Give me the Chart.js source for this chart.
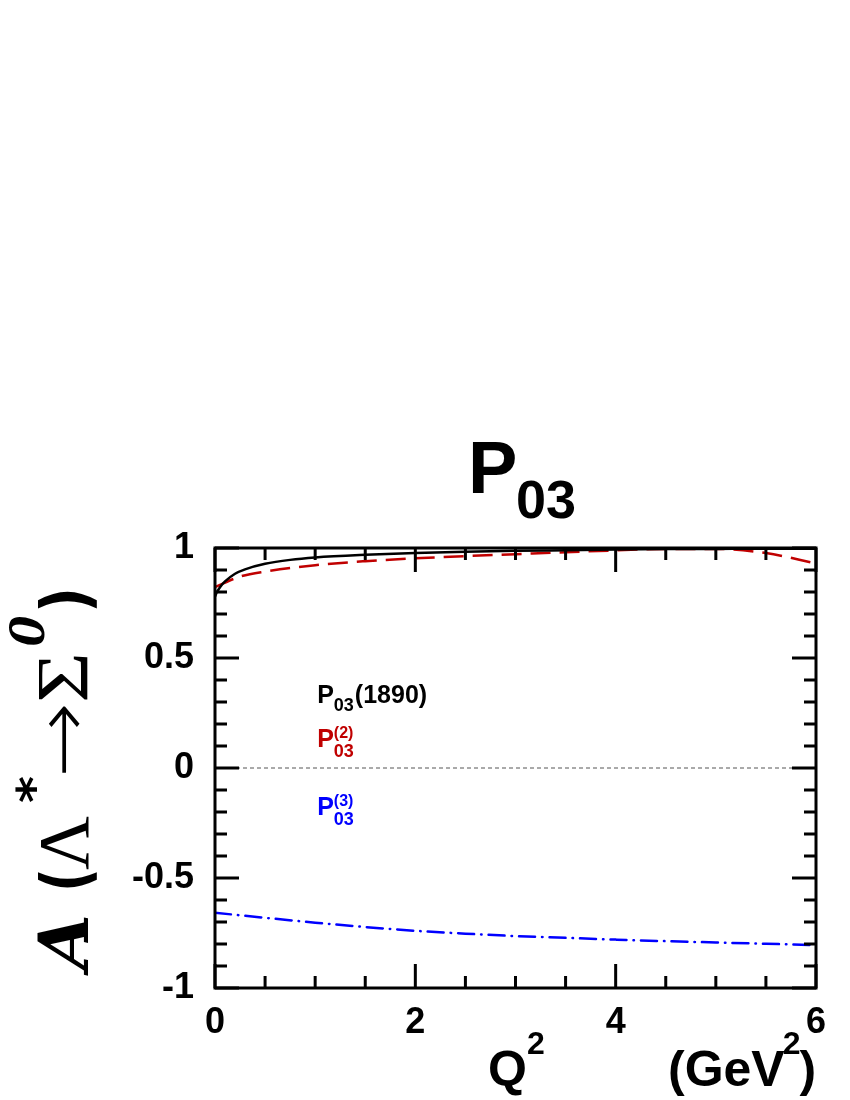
<!DOCTYPE html>
<html>
<head>
	<title>P03</title>
	<style>
		body { margin: 0; background: #fff; }
	</style>
</head>
<body>
	<canvas id="chart" width="850" height="1100"></canvas>

	<script src="https://cdn.jsdelivr.net/npm/chart.js@4/dist/chart.umd.min.js"></script>
	<script type="text/javascript">

		// values
		var q2Black = [0, 0.02, 0.05, 0.1, 0.2, 0.3, 0.5, 0.75, 1, 1.5, 2, 2.5, 3, 3.5, 4, 4.5, 5, 5.5, 6];
		var aBlack  = [0.78, 0.80, 0.822, 0.848, 0.883, 0.903, 0.928, 0.946, 0.957, 0.969, 0.977, 0.983, 0.987, 0.99, 0.993, 0.995, 0.996, 0.997, 0.997];

		var q2Red = [0, 0.25, 0.5, 1, 1.5, 2, 2.5, 3, 3.5, 4, 4.5, 5, 5.5, 6];
		var aRed  = [0.822, 0.87, 0.893, 0.922, 0.94, 0.953, 0.963, 0.972, 0.981, 0.989, 0.996, 0.996, 0.977, 0.93];

		var q2Blue = [0, 0.5, 1, 1.5, 2, 2.5, 3, 3.5, 4, 4.5, 5, 5.5, 6];
		var aBlue  = [-0.658, -0.681, -0.703, -0.723, -0.74, -0.753, -0.764, -0.772, -0.78, -0.787, -0.793, -0.799, -0.805];

		var q2Zero = [0, 6];
		var aZero  = [0, 0];

		var xTicks = [0, 2, 4, 6];
		var yTicks = [-1, -0.5, 0, 0.5, 1];

		function pts(xs, ys) {
			var arr = [];
			for (var i = 0; i < xs.length; i++) arr.push({x: xs[i], y: ys[i]});
			return arr;
		}

		var FONT = 'Liberation Sans';

		// draw text squeezed/stretched so it runs from x0 to x1
		function fitText(ctx, txt, font, x0, x1, y) {
			ctx.font = font;
			var w = ctx.measureText(txt).width;
			ctx.save();
			ctx.translate(x0, y);
			ctx.scale((x1 - x0) / w, 1);
			ctx.fillText(txt, 0, 0);
			ctx.restore();
		}

		var decor = {
			id: 'decor',
			afterDatasetsDraw: function(chart) {
				var ctx = chart.ctx;
				var a = chart.chartArea;
				var xs = chart.scales.x, ys = chart.scales.y;
				ctx.save();
				ctx.strokeStyle = '#000';
				ctx.lineWidth = 3;

				// ticks pointing inward, all four sides
				var v, px, len;
				for (var i = 0; i <= 12; i++) {
					v = i * 0.5;
					px = xs.getPixelForValue(v);
					len = (i % 4 === 0) ? 24 : 12;
					ctx.beginPath();
					ctx.moveTo(px, a.bottom); ctx.lineTo(px, a.bottom - len);
					ctx.moveTo(px, a.top); ctx.lineTo(px, a.top + len);
					ctx.stroke();
				}
				for (var j = 0; j <= 20; j++) {
					v = -1 + j * 0.1;
					px = ys.getPixelForValue(v);
					len = (j % 5 === 0) ? 24 : 12;
					ctx.beginPath();
					ctx.moveTo(a.left, px); ctx.lineTo(a.left + len, px);
					ctx.moveTo(a.right, px); ctx.lineTo(a.right - len, px);
					ctx.stroke();
				}
				ctx.strokeRect(a.left, a.top, a.right - a.left, a.bottom - a.top);

				// curve labels
				ctx.textAlign = 'left';
				ctx.textBaseline = 'alphabetic';
				var lx = xs.getPixelForValue(1.02);
				var by = ys.getPixelForValue(0.295);
				ctx.fillStyle = '#000';
				ctx.font = 'bold 25px ' + FONT;
				ctx.fillText('P', lx, by);
				var pw = ctx.measureText('P').width;
				ctx.font = 'bold 18px ' + FONT;
				ctx.fillText('03', lx + pw, by + 8);
				var sw = ctx.measureText('03').width;
				ctx.font = 'bold 25px ' + FONT;
				ctx.fillText('(1890)', lx + pw + sw + 1, by);

				var labs = [[0.095, '#c00000', '(2)'], [-0.214, '#0000ff', '(3)']];
				for (var k = 0; k < labs.length; k++) {
					by = ys.getPixelForValue(labs[k][0]);
					ctx.fillStyle = labs[k][1];
					ctx.font = 'bold 25px ' + FONT;
					ctx.fillText('P', lx, by);
					ctx.font = 'bold 16px ' + FONT;
					ctx.fillText(labs[k][2], lx + pw, by - 9);
					ctx.font = 'bold 18px ' + FONT;
					ctx.fillText('03', lx + pw, by + 10);
				}

				// title
				ctx.fillStyle = '#000';
				ctx.font = 'bold 74px ' + FONT;
				ctx.fillText('P', 468, 493);
				ctx.font = 'bold 54px ' + FONT;
				ctx.fillText('03', 516, 518);

				// x title
				ctx.font = 'bold 50px ' + FONT;
				ctx.fillText('Q', 488, 1086);
				var qw = ctx.measureText('Q').width;
				ctx.font = 'bold 32px ' + FONT;
				ctx.fillText('2', 488 + qw, 1054);
				ctx.font = 'bold 50px ' + FONT;
				ctx.fillText('(GeV', 668, 1086);
				var gw = ctx.measureText('(GeV').width;
				ctx.font = 'bold 32px ' + FONT;
				ctx.fillText('2', 668 + gw - 2, 1054);
				var tw = ctx.measureText('2').width;
				ctx.font = 'bold 50px ' + FONT;
				ctx.fillText(')', 668 + gw + tw - 3, 1086);

				// y title, rotated
				ctx.translate(88, 968);
				ctx.rotate(-Math.PI / 2);
				fitText(ctx, 'A', 'bold italic 70px DejaVu Serif', -2, 54, 0);
				fitText(ctx, '(', 'bold 66px DejaVu Sans', 76, 100, 0);
				fitText(ctx, '\u039B', '72px Liberation Serif', 98, 152, 0);
				ctx.textBaseline = 'middle';
				fitText(ctx, '*', 'bold 46px DejaVu Sans', 165, 192, -50);
				ctx.textBaseline = 'alphabetic';
				fitText(ctx, '\u2192', '200 76px DejaVu Sans', 190, 266, 0);
				fitText(ctx, '\u03A3', '74px Liberation Serif', 265, 316, 0);
				fitText(ctx, '0', 'italic bold 52px Liberation Serif', 321, 352, -44);
				fitText(ctx, ')', 'bold 66px DejaVu Sans', 355, 381, 0);
				ctx.restore();
			}
		};

		function makeChart() {
			var tickFont = {family: FONT, weight: 'bold', size: 36};
			new Chart('chart', {
				type: 'scatter',
				data: {
					datasets: [
						{data: pts(q2Zero, aZero), showLine: true, borderColor: '#555', borderWidth: 1, borderDash: [4, 3], pointRadius: 0},
						{data: pts(q2Black, aBlack), showLine: true, borderColor: '#000', borderWidth: 2.5, pointRadius: 0, cubicInterpolationMode: 'monotone'},
						{data: pts(q2Red, aRed), showLine: true, borderColor: '#c00000', borderWidth: 2.5, borderDash: [20, 9], pointRadius: 0, cubicInterpolationMode: 'monotone'},
						{data: pts(q2Blue, aBlue), showLine: true, borderColor: '#0000ff', borderWidth: 2.5, borderDash: [16, 7, 0.5, 7], borderCapStyle: 'round', pointRadius: 0, cubicInterpolationMode: 'monotone'}
					]
				},
				options: {
					responsive: false,
					animation: false,
					devicePixelRatio: 1,
					layout: {padding: {top: 548, right: 34, left: 0, bottom: 0}},
					plugins: {legend: {display: false}, tooltip: {enabled: false}},
					scales: {
						x: {
							type: 'linear', min: 0, max: 6,
							afterFit: function(s) { s.height = 112; },
							afterBuildTicks: function(s) { s.ticks = xTicks.map(function(v) { return {value: v}; }); },
							ticks: {font: tickFont, color: '#000', padding: 5, maxRotation: 0, autoSkip: false},
							grid: {display: false},
							border: {display: false}
						},
						y: {
							type: 'linear', min: -1, max: 1,
							afterFit: function(s) { s.width = 215; },
							afterBuildTicks: function(s) { s.ticks = yTicks.map(function(v) { return {value: v}; }); },
							ticks: {font: tickFont, color: '#000', padding: 13, autoSkip: false,
								callback: function(v) { return String(v); }},
							grid: {display: false},
							border: {display: false}
						}
					}
				},
				plugins: [decor]
			});
		}

		window.onload = makeChart;
	</script>
</body>
</html>
